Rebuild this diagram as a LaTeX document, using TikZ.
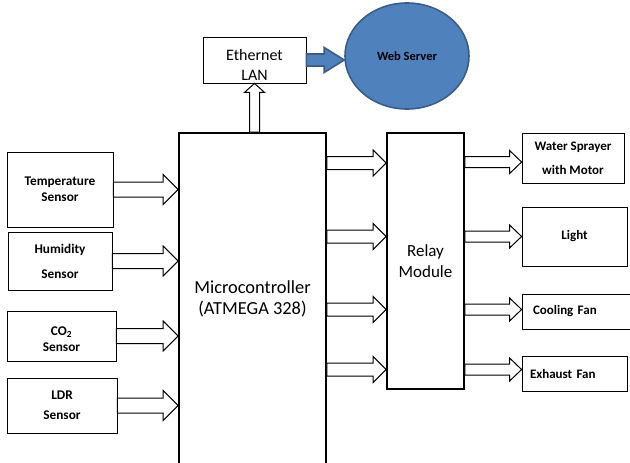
\documentclass[tikz,border=0pt]{standalone}
\usepackage{fontspec}
\setmainfont{Carlito}
\usetikzlibrary{positioning, calc, shapes.geometric}
\definecolor{srvBlue}{HTML}{4F81BD}
\definecolor{srvEdge}{HTML}{385D8A}

\begin{document}
\begin{tikzpicture}[
  x=1pt, y=-1pt,
  every node/.style={align=center, inner sep=0pt},
  sensor/.style={
    draw,
    line width=0.8pt,
    font=\fontsize{13.3}{16}\selectfont\bfseries
  },
  output/.style={
    draw,
    line width=0.8pt,
    font=\fontsize{13}{24}\selectfont\bfseries
  },
  core/.style={
    draw,
    line width=1.8pt,
    font=\fontsize{17}{21}\selectfont
  },
  netbox/.style={
    draw,
    line width=0.8pt,
    font=\fontsize{16}{17}\selectfont
  },
  server/.style={
    ellipse,
    draw=srvEdge,
    fill=srvBlue,
    line width=1.6pt,
    font=\fontsize{12.5}{15}\selectfont\bfseries
  },
  harrow/.style n args={3}{
    draw, fill=white, line width=1pt,
    to path={let \p1=(\tikztostart), \p2=(\tikztotarget) in
      (\x1,\y1+#1) -- (\x2-#3,\y1+#1) -- (\x2-#3,\y1+#2) -- (\x2,\y1)
      -- (\x2-#3,\y1-#2) -- (\x2-#3,\y1-#1) -- (\x1,\y1-#1) -- cycle}
  },
  varrow/.style n args={3}{
    draw, fill=white, line width=1pt,
    to path={let \p1=(\tikztostart), \p2=(\tikztotarget) in
      (\x1-#1,\y1) -- (\x1-#1,\y2-#3) -- (\x1-#2,\y2-#3) -- (\x1,\y2)
      -- (\x1+#2,\y2-#3) -- (\x1+#1,\y2-#3) -- (\x1+#1,\y1) -- cycle}
  },
  inlink/.style={harrow={7.5pt}{15pt}{15pt}},
  midlink/.style={harrow={6.5pt}{13pt}{13pt}},
  outlink/.style={harrow={5.5pt}{11.5pt}{12pt}},
  weblink/.style={harrow={6pt}{12.5pt}{20pt}, draw=srvEdge, fill=srvBlue, line width=1.6pt}
]
\useasboundingbox (0,0) rectangle (630,463);

% controller and relay
\node[core, font=\fontsize{18.4}{21}\selectfont, minimum width=147pt,
  minimum height=332pt] (micro) at (252.5,299)
{Microcontroller\\(ATMEGA 328)};
\node[core, minimum width=77pt, minimum height=256pt] (relay) at (425.5,261)
{Relay\\Module};

% network
\node[netbox, minimum width=103pt, minimum height=46pt] (eth) at (254.5,60)
{\raisebox{-7pt}[\height][\depth]{\begin{tabular}{@{}c@{}}Ethernet\\[3pt]LAN\end{tabular}}};
\node[server, minimum width=124pt, minimum height=106pt] (srv) at (407,56)
{Web Server};

% sensors
\node[sensor, minimum width=106pt, minimum height=75pt] (temp) at (60,189.5)
{Temperature\\Sensor};
\node[sensor, minimum width=104pt, minimum height=58pt] (hum) at (60,261)
{Humidity\\[9pt]Sensor};
\node[sensor, minimum width=109pt, minimum height=50pt] (co2) at (61.5,336)
{\raisebox{-4pt}[\height][\depth]{\begin{tabular}{@{}c@{}}CO\textsubscript{2}\\Sensor\end{tabular}}};
\node[sensor, minimum width=110pt, minimum height=55pt] (ldr) at (62,405.5)
{LDR\\[4pt]Sensor};

% actuators
\node[output, minimum width=102pt, minimum height=50pt] (water) at (573,158)
{Water Sprayer\\with Motor};
\node[output, minimum width=105pt, minimum height=59pt] (light) at (574.5,236.5)
{Light};
\node[output, minimum width=112pt, minimum height=35pt, text width=90pt,
  inner xsep=11pt, align=left] (cool) at (578,311.5) {Cooling Fan};
\node[output, minimum width=105pt, minimum height=35pt, text width=89pt,
  inner xsep=8pt, align=left] (exh) at (574.5,373.5) {Exhaust Fan};

\draw[varrow={5pt}{10pt}{9pt}] (micro.north -| eth.south) to (eth.south);
\draw[weblink] (eth.east) to (eth.east -| srv.west);

\draw[inlink] (temp.east) to (temp.east -| micro.west);
\draw[inlink] (hum.east) to (hum.east -| micro.west);
\draw[inlink] (co2.east) to (co2.east -| micro.west);
\draw[inlink] (ldr.east) to (ldr.east -| micro.west);

\draw[midlink] ($(water.west -| micro.east)+(0,5)$) to (relay.west);
\draw[midlink] (light.west -| micro.east) to (relay.west);
\draw[midlink] ($(cool.west -| micro.east)+(0,-2)$) to (relay.west);
\draw[midlink] ($(exh.west -| micro.east)+(0,-4)$) to (relay.west);

\draw[outlink] ($(water.west -| relay.east)+(0,4)$) to (water.west);
\draw[outlink] (light.west -| relay.east) to (light.west);
\draw[outlink] ($(cool.west -| relay.east)+(0,-2)$) to (cool.west);
\draw[outlink] ($(exh.west -| relay.east)+(0,-4)$) to (exh.west);

\end{tikzpicture}
\end{document}
